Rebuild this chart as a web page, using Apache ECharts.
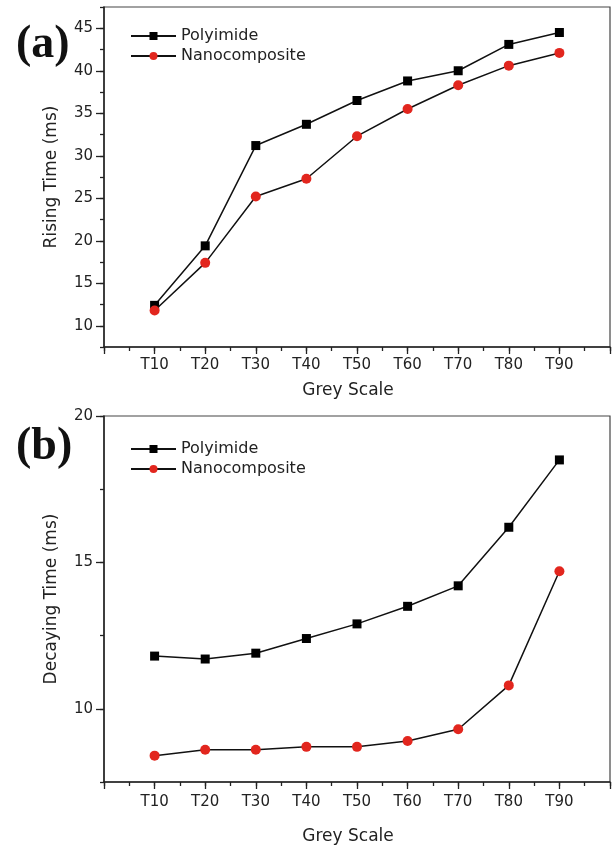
<!DOCTYPE html>
<html>
<head>
<meta charset="utf-8">
<title>Rising / Decaying Time vs Grey Scale</title>
<script src="https://cdn.jsdelivr.net/npm/echarts@6/dist/echarts.min.js"></script>
<style>
  html, body { margin: 0; padding: 0; background: #fff; }
  #chart { width: 614px; height: 846px; }
</style>
</head>
<body>
<div id="chart"></div>
<script>
// grey levels T10..T90
const greyLevels = [10, 20, 30, 40, 50, 60, 70, 80, 90];
const seriesNames = ['Polyimide', 'Nanocomposite'];

// (a) rising time, ms
const risingPolyimide = [12.4, 19.4, 31.2, 33.7, 36.5, 38.8, 40.0, 43.1, 44.5];
const risingNano      = [11.8, 17.4, 25.2, 27.3, 32.3, 35.5, 38.3, 40.6, 42.1];

// (b) decaying time, ms
const decayPolyimide = [11.8, 11.7, 11.9, 12.4, 12.9, 13.5, 14.2, 16.2, 18.5];
const decayNano      = [8.4, 8.6, 8.6, 8.7, 8.7, 8.9, 9.3, 10.8, 14.7];

// tick labels
const risingTicks = [10, 15, 20, 25, 30, 35, 40, 45];
const decayTicks = [10, 15, 20];
const greyTicks = [0, 10, 20, 30, 40, 50, 60, 70, 80, 90, 100];

(function () {
    function init() {
        const dom = document.getElementById('chart');
        const chart = echarts.init(dom);

        const FONT = 'DejaVu Sans';
        const INK = '#222';
        const RED = '#e2261e';

        const pairs = (vals) => vals.map((v, i) => [greyLevels[i], v]);

        function xAxesFor(gridIndex, labelMargin, nameGap) {
            return [{
                type: 'value', gridIndex,
                min: 0, max: 100, interval: 5,
                axisLine: { lineStyle: { color: INK, width: 1.5 } },
                axisTick: { show: true, length: 4, lineStyle: { color: INK, width: 1.3 } },
                axisLabel: {
                    color: INK, fontFamily: FONT, fontSize: 15, margin: labelMargin,
                    formatter: (v) => (v % 10 === 0 && v > 0 && v < 100) ? 'T' + v : ''
                },
                splitLine: { show: false },
                name: 'Grey Scale', nameLocation: 'middle', nameGap,
                nameTextStyle: { color: INK, fontFamily: FONT, fontSize: 17, padding: [0, 18, 0, 0] }
            }, {
                // longer major ticks
                type: 'value', gridIndex, min: 0, max: 100, position: 'bottom',
                axisLine: { show: false },
                axisTick: { show: true, length: 7, customValues: greyTicks, lineStyle: { color: INK, width: 1.3 } },
                axisLabel: { show: false },
                splitLine: { show: false }
            }];
        }

        function yAxesFor(gridIndex, min, max, ticks, name) {
            return [{
                type: 'value', gridIndex, min, max, interval: 2.5,
                axisLine: { show: true, lineStyle: { color: INK, width: 1.5 } },
                axisTick: { show: true, length: 4, lineStyle: { color: INK, width: 1.3 } },
                axisLabel: {
                    color: INK, fontFamily: FONT, fontSize: 15, margin: 11,
                    formatter: (v) => ticks.indexOf(v) >= 0 ? String(v) : ''
                },
                splitLine: { show: false },
                name, nameLocation: 'middle', nameGap: 44,
                nameTextStyle: { color: INK, fontFamily: FONT, fontSize: 17 }
            }, {
                // longer major ticks
                type: 'value', gridIndex, min, max, position: 'left',
                axisLine: { show: false },
                axisTick: { show: true, length: 8, customValues: ticks, lineStyle: { color: INK, width: 1.3 } },
                axisLabel: { show: false },
                splitLine: { show: false }
            }];
        }

        function lineSeries(name, data, x, y, isNano) {
            return {
                name, type: 'line', data: pairs(data),
                xAxisIndex: x, yAxisIndex: y,
                symbol: isNano ? 'circle' : 'rect',
                symbolSize: isNano ? 10 : 9,
                itemStyle: { color: isNano ? RED : '#000' },
                lineStyle: { color: '#111', width: 1.5 },
                z: isNano ? 3 : 2
            };
        }

        function legendFor(top) {
            return {
                data: seriesNames, orient: 'vertical', left: 125, top,
                itemWidth: 45, itemHeight: 10, itemGap: 4,
                lineStyle: { width: 2 },
                textStyle: { color: INK, fontFamily: FONT, fontSize: 16 }
            };
        }

        const option = {
            animation: false,
            backgroundColor: '#fff',
            grid: [
                { left: 104, top: 7, width: 506, height: 340, show: true, borderColor: '#444', borderWidth: 1.2 },
                { left: 104, top: 416, width: 506, height: 371, show: true, borderColor: '#444', borderWidth: 1.2 }
            ],
            legend: [legendFor(23), legendFor(436)],
            xAxis: [...xAxesFor(0, 11, 35), ...xAxesFor(1, 13, 46)],
            yAxis: [
                ...yAxesFor(0, 7.5, 47.5, risingTicks, 'Rising Time (ms)'),
                ...yAxesFor(1, 7.5, 20, decayTicks, 'Decaying Time (ms)')
            ],
            series: [
                lineSeries(seriesNames[0], risingPolyimide, 0, 0, false),
                lineSeries(seriesNames[1], risingNano, 0, 0, true),
                lineSeries(seriesNames[0], decayPolyimide, 2, 2, false),
                lineSeries(seriesNames[1], decayNano, 2, 2, true)
            ],
            graphic: [
                { type: 'text', left: 16, top: 22, style: { text: '(a)', font: 'bold 46px "Liberation Serif"', fill: '#111' } },
                { type: 'text', left: 16, top: 424, style: { text: '(b)', font: 'bold 46px "Liberation Serif"', fill: '#111' } }
            ]
        };

        chart.setOption(option);
        window.onresize = () => chart.resize();
    }

    if (document.readyState === 'loading') {
        document.addEventListener('DOMContentLoaded', init);
    } else {
        init();
    }
})();
</script>
</body>
</html>
